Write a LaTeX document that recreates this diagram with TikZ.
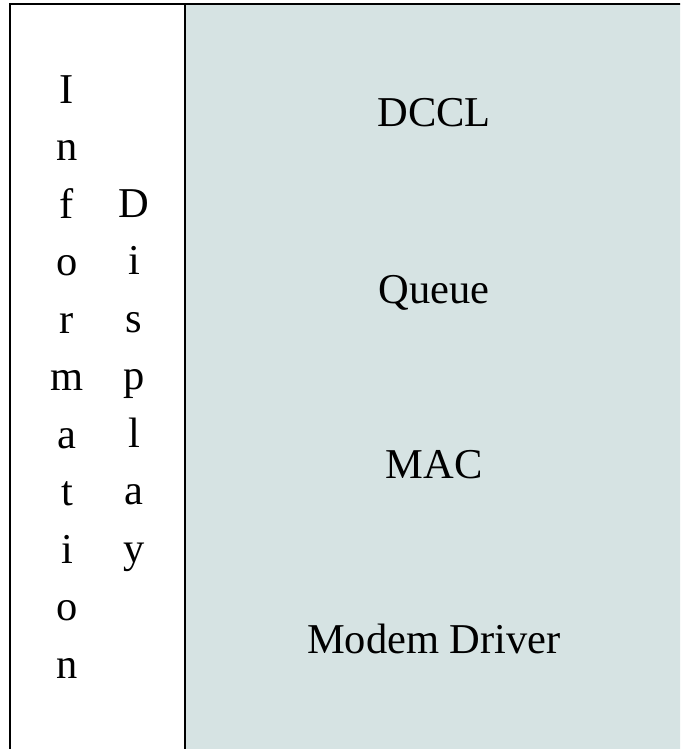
\documentclass[tikz,border=0pt]{standalone}
\usepackage{fontspec}
\setmainfont{Liberation Serif}
\definecolor{panelfill}{RGB}{214,227,227}
\begin{document}
\begin{tikzpicture}[x=1pt,y=-1pt,
  frame/.style={draw=black,line width=2pt},
  txt/.style={anchor=base,inner sep=0pt,font=\fontsize{42.5}{50}\selectfont},
  layer/.style={txt}]
\useasboundingbox (0,0) rectangle (680,749);
\clip (0,0) rectangle (680,749);
% right panel
\fill[panelfill] (185,4) rectangle (700,770);
% outer frame (runs past the right and lower edges) and the divider
\draw[frame] (10,770) -- (10,4) -- (700,4);
\draw[frame] (185,4) -- (185,770);
% vertical words in the left column
\foreach \ch [count=\k] in {I,n,f,o,r,m,a,t,i,o,n}
  \node[txt] (info-\k) at (67,{103+57.5*(\k-1)}) {\ch};
\foreach \ch [count=\k] in {D,i,s,p,l,a,y}
  \node[txt] (disp-\k) at (134,{217+57.5*(\k-1)}) {\ch};
% layer labels
\node[layer] (dccl)   at (434,127) {DCCL};
\node[layer] (queue)  at (434,303) {Queue};
\node[layer] (mac)    at (434,478) {MAC};
\node[layer] (driver) at (434,653) {Modem Driver};
\end{tikzpicture}
\end{document}
